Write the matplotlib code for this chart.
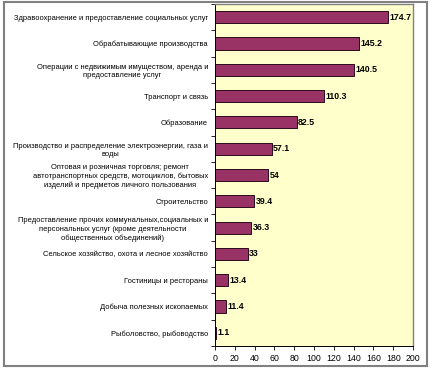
import matplotlib.pyplot as plt
from matplotlib.patches import Rectangle

# Data (top to bottom)
categories = [
    'Здравоохранение и предоставление социальных услуг',
    'Обрабатывающие производства',
    'Операции с недвижимым имуществом, аренда и\nпредоставление услуг',
    'Транспорт и связь',
    'Образование',
    'Производство и распределение электроэнергии, газа и\nводы',
    'Оптовая и розничная торговля; ремонт\nавтотранспортных средств, мотоциклов, бытовых\nизделий и предметов личного пользования',
    'Строительство',
    'Предоставление прочих коммунальных,социальных и\nперсональных услуг (кроме деятельности\nобщественных объединений)',
    'Сельское хозяйство, охота и лесное хозяйство',
    'Гостиницы и рестораны',
    'Добыча полезных ископаемых',
    'Рыболовство, рыбоводство',
]
values = [174.7, 145.2, 140.5, 110.3, 82.5, 57.1, 54, 39.4, 36.3, 33, 13.4, 11.4, 1.1]
value_labels = ['174.7', '145.2', '140.5', '110.3', '82.5', '57.1', '54', '39.4', '36.3', '33', '13.4', '11.4', '1.1']
x_ticks = [0, 20, 40, 60, 80, 100, 120, 140, 160, 180, 200]

plt.rcParams['font.family'] = ['Liberation Sans', 'DejaVu Sans']

W, H = 432, 369
fig = plt.figure(figsize=(W / 100, H / 100), dpi=100)
fig.patch.set_facecolor('white')

# outer frame of the picture
fig.add_artist(Rectangle((4 / W, 1 - 366 / H), 423 / W, 364 / H, transform=fig.transFigure,
                         fill=False, edgecolor='#808080', linewidth=1.5))

ax = fig.add_axes([215 / W, 1 - 346 / H, 198 / W, 342 / H])
ax.set_facecolor('#FFFFCC')

n = len(categories)
pos = list(range(n))
ax.barh(pos, values, height=0.46, color='#993366', edgecolor='#2a0a1a', linewidth=0.7)

for p, v, lab in zip(pos, values, value_labels):
    ax.text(v + 1.5, p, lab, va='center', ha='left', fontsize=6.3, fontweight='bold', color='black')

ax.set_xlim(0, 200)
ax.set_ylim(n - 0.5, -0.5)

ax.set_xticks(x_ticks)
ax.set_xticklabels([str(t) for t in x_ticks], fontsize=6.3)
ax.tick_params(axis='x', length=3, width=0.6, pad=3, direction='out')

# category boundaries get the tick marks, labels sit between them
ax.set_yticks([i - 0.5 for i in range(n + 1)])
ax.set_yticklabels([])
ax.tick_params(axis='y', which='major', length=3, width=0.6, direction='out')
ax.set_yticks(pos, minor=True)
ax.set_yticklabels(categories, minor=True, fontsize=5.45, multialignment='center', linespacing=1.3)
ax.tick_params(axis='y', which='minor', length=0, pad=5)

for side in ['top', 'right']:
    ax.spines[side].set_color('#808080')
    ax.spines[side].set_linewidth(1.0)
for side in ['left', 'bottom']:
    ax.spines[side].set_color('black')
    ax.spines[side].set_linewidth(0.7)

fig.savefig('out.png', dpi=100)
